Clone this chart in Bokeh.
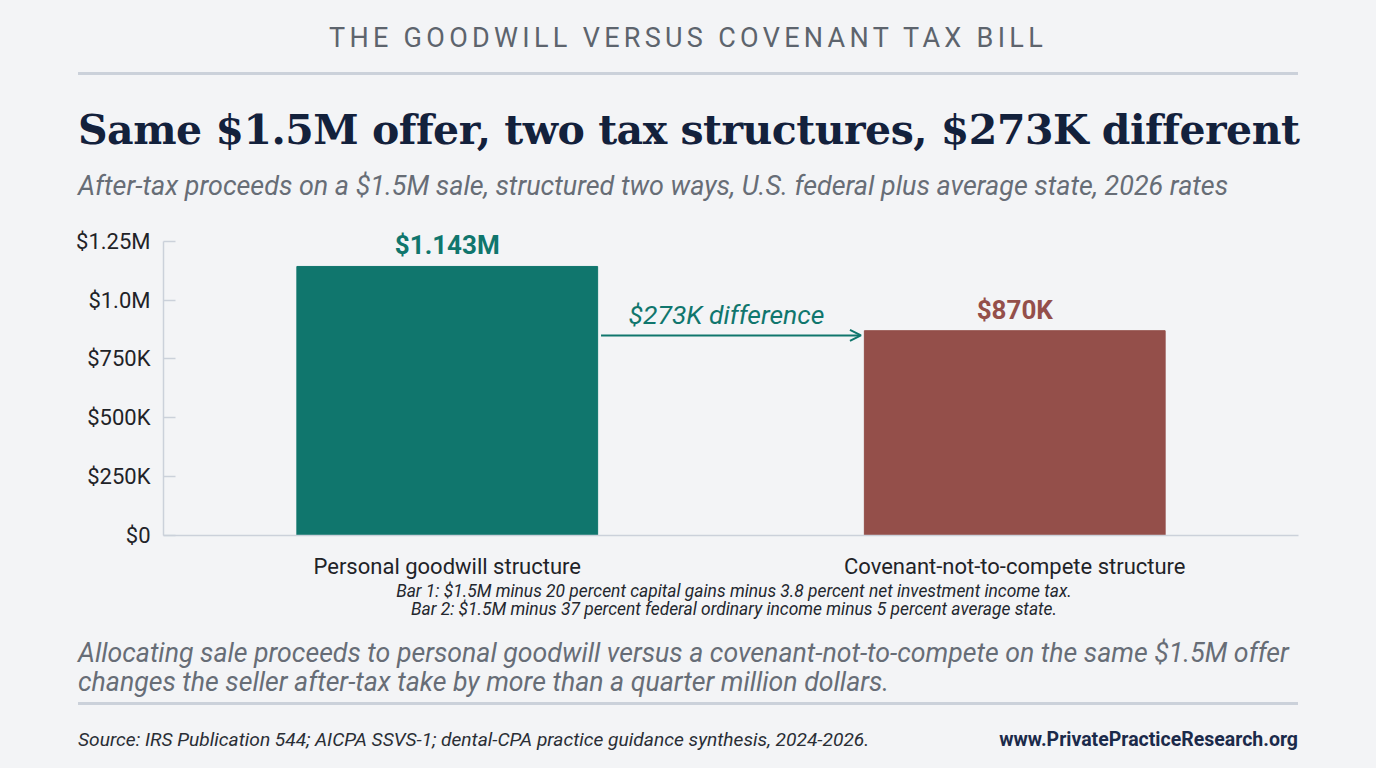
from bokeh.plotting import figure
from bokeh.models import (Div, Range1d, FactorRange, FixedTicker, LabelSet, Label,
                          Arrow, OpenHead, ColumnDataSource)
from bokeh.layouts import column
from bokeh.core.properties import value
from bokeh.embed import file_html
from bokeh.resources import INLINE

# data
categories = ["Personal goodwill structure", "Covenant-not-to-compete structure"]
after_tax = [1143000, 870000]
value_labels = ["$1.143M", "$870K"]
bar_colors = ["#10766d", "#944f4a"]
y_ticks = [0, 250000, 500000, 750000, 1000000, 1250000]
y_tick_labels = ["$0", "$250K", "$500K", "$750K", "$1.0M", "$1.25M"]

kicker = "THE GOODWILL VERSUS COVENANT TAX BILL"
title = "Same $1.5M offer, two tax structures, $273K different"
subtitle = ("After-tax proceeds on a $1.5M sale, structured two ways, "
            "U.S. federal plus average state, 2026 rates")
notes = ["Bar 1: $1.5M minus 20 percent capital gains minus 3.8 percent net investment income tax.",
         "Bar 2: $1.5M minus 37 percent federal ordinary income minus 5 percent average state."]
takeaway = ("Allocating sale proceeds to personal goodwill versus a covenant-not-to-compete "
            "on the same $1.5M offer<br>changes the seller after-tax take by more than a "
            "quarter million dollars.")
source = "Source: IRS Publication 544; AICPA SSVS-1; dental-CPA practice guidance synthesis, 2024-2026."
site = "www.PrivatePracticeResearch.org"

BG = "#f3f4f6"
TEAL = bar_colors[0]
RULE = "#cbd1da"
W = 1376
M = 78  # side margin of the text blocks

# header
header_html = f"""
<div style="position:relative;width:{W}px;height:222px;font-family:Roboto;">
 <div style="position:absolute;left:0;top:25px;width:{W}px;text-align:center;font-size:27px;
  line-height:27px;letter-spacing:4.3px;color:#5d646d;">{kicker}</div>
 <div style="position:absolute;left:{M}px;top:72px;width:{W - 2 * M}px;height:3px;background:{RULE};"></div>
 <div style="position:absolute;left:{M}px;top:110px;white-space:nowrap;font-family:'DejaVu Serif';
  font-weight:bold;font-size:41px;line-height:41px;letter-spacing:-0.5px;color:#13213c;">{title}</div>
 <div style="position:absolute;left:{M}px;top:173px;white-space:nowrap;font-style:italic;
  font-size:26.9px;line-height:26.9px;color:#676d76;">{subtitle}</div>
</div>"""
header = Div(text=header_html, width=W, height=222, margin=(0, 0, 0, 0),
             styles={"background-color": BG})

# chart
src = ColumnDataSource(dict(cat=categories, val=after_tax, label=value_labels, color=bar_colors))

p = figure(x_range=FactorRange(*categories), y_range=Range1d(0, 1300000),
           width=W, height=360, title=None, output_backend="svg", toolbar_location=None,
           min_border_left=163, min_border_right=M, min_border_top=7, min_border_bottom=47)
p.background_fill_color = BG
p.border_fill_color = BG
p.outline_line_color = None
p.xgrid.visible = False
p.ygrid.visible = False

bar_w = 0.53
p.vbar(x="cat", top="val", width=bar_w, color="color", source=src)

p.add_layout(LabelSet(x="cat", y="val", text="label", source=src, text_color="color",
                      y_offset=21, text_align="center", text_baseline="middle",
                      text_font=value("Roboto"), text_font_size="26px",
                      text_font_style="bold"))

# difference arrow between the bars
gap = 0.006
x0 = 0.5 + bar_w / 2 + gap
x1 = 1.5 - bar_w / 2 - gap
arrow_y = 850000
diff = after_tax[0] - after_tax[1]
p.add_layout(Arrow(x_start=x0, y_start=arrow_y, x_end=x1, y_end=arrow_y,
                   line_color=TEAL, line_width=2,
                   end=OpenHead(size=11, line_color=TEAL, line_width=2)))
p.add_layout(Label(x=(x0 + x1) / 2 - 0.008, y=940000, text=f"${diff // 1000}K difference",
                   text_align="center", text_baseline="middle", text_font="Roboto",
                   text_font_size="26.5px", text_font_style="italic", text_color=TEAL))

ax = p.xaxis[0]
ax.axis_line_color = RULE
ax.axis_line_width = 1.5
ax.major_tick_line_color = None
ax.major_label_standoff = 12
ax.major_label_text_font = "Roboto"
ax.major_label_text_font_size = "22px"
ax.major_label_text_color = "#1f2328"

ay = p.yaxis[0]
ay.ticker = FixedTicker(ticks=y_ticks)
ay.major_label_overrides = dict(zip(y_ticks, y_tick_labels))
ay.bounds = (0, 1250000)
ay.axis_line_color = RULE
ay.axis_line_width = 1.5
ay.major_tick_line_color = RULE
ay.major_tick_line_width = 1.5
ay.major_tick_in = 12
ay.major_tick_out = 0
ay.minor_tick_line_color = None
ay.major_label_standoff = 13
ay.major_label_text_font = "Roboto"
ay.major_label_text_font_size = "22px"
ay.major_label_text_color = "#1f2328"

# footer
footer_html = f"""
<div style="position:relative;width:{W}px;height:186px;font-family:Roboto;">
 <div style="position:absolute;left:134px;top:0;width:1200px;text-align:center;font-style:italic;
  font-size:17.4px;line-height:18px;color:#23272e;">{notes[0]}<br>{notes[1]}</div>
 <div style="position:absolute;left:{M}px;top:56.5px;white-space:nowrap;font-style:italic;
  font-size:26.7px;line-height:29px;color:#676d76;">{takeaway}</div>
 <div style="position:absolute;left:{M}px;top:119.5px;width:{W - 2 * M}px;height:3px;background:{RULE};"></div>
 <div style="position:absolute;left:{M}px;top:148px;white-space:nowrap;font-style:italic;
  font-size:19.2px;line-height:20px;color:#2a2e35;">{source}</div>
 <div style="position:absolute;right:{M}px;top:148px;white-space:nowrap;font-weight:bold;
  font-size:19.5px;line-height:20px;color:#1b2a4a;">{site}</div>
</div>"""
footer = Div(text=footer_html, width=W, height=186, margin=(0, 0, 0, 0),
             styles={"background-color": BG})

layout = column(header, p, footer, styles={"background-color": BG})

open("out.html", "w").write(file_html(layout, INLINE))
